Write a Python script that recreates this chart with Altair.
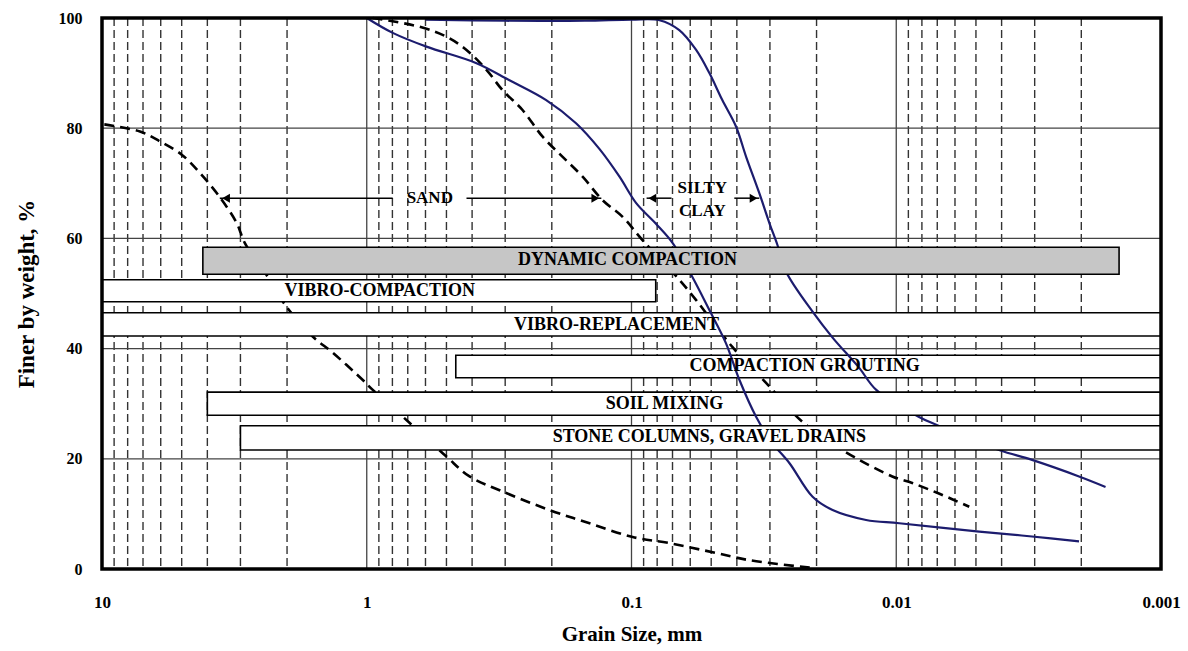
import altair as alt
import pandas as pd

FONT = "Liberation Serif"
NAVY = "#1c1c6e"

# ---------------- axes / grid values ----------------
X_TICKS = [10, 1, 0.1, 0.01, 0.001]
Y_TICKS = [0, 20, 40, 60, 80, 100]
MAJOR_X = [1, 0.1, 0.01]
MINOR_X = [9, 8, 7, 6, 5, 4, 3, 2,
           0.9, 0.8, 0.7, 0.6, 0.5, 0.4, 0.3, 0.2,
           0.09, 0.08, 0.07, 0.06, 0.05, 0.04, 0.03, 0.02,
           0.009, 0.008, 0.007, 0.006, 0.005, 0.004, 0.003, 0.002]
H_GRID = [20, 40, 60, 80]

# ---------------- grain-size curves ----------------
a_x = [9.8, 7.19, 6.04, 5.0, 4.27, 3.59, 3.10, 2.89, 2.4, 2.01, 1.60, 1.34, 1.035, 0.949,
       0.688, 0.50, 0.409, 0.315, 0.204, 0.144, 0.099, 0.072, 0.0479, 0.0359, 0.0207]
a_y = [80.7, 79.4, 77.6, 75.2, 71.9, 67.5, 62.8, 59.2, 53.5, 47.6, 42.2, 39.2, 34.3, 32.5,
       26.5, 20.4, 16.8, 14.3, 10.7, 8.3, 5.8, 4.7, 2.9, 1.6, 0.2]

b_x = [1.0, 0.798, 0.595, 0.385, 0.289, 0.21, 0.162, 0.132, 0.111, 0.096, 0.081, 0.070,
       0.0589, 0.0508, 0.044, 0.0391, 0.0338, 0.0294, 0.0253, 0.0207, 0.0174, 0.013,
       0.00974, 0.00486, 0.00307, 0.00204]
b_y = [100, 97.3, 94.8, 91.8, 88.7, 85.1, 80.9, 76.2, 71.2, 66.4, 62.7, 59.2,
       53.0, 47.0, 41.0, 34.3, 27.6, 22.9, 19.2, 13.1, 10.7, 8.9,
       8.3, 6.8, 5.9, 5.0]

c_x = [0.95, 0.631, 0.50, 0.42, 0.353, 0.307, 0.258, 0.217, 0.182, 0.153, 0.129, 0.108,
       0.0909, 0.066, 0.057, 0.0416, 0.0301, 0.0226, 0.016, 0.01035, 0.0087, 0.0069, 0.0053]
c_y = [100, 98.4, 96.6, 94.2, 90.6, 86.9, 83.3, 78.5, 74.8, 71.2, 67.0, 63.9,
       59.7, 52.5, 48.8, 40.3, 33.1, 26.7, 21.6, 16.8, 15.6, 13.7, 11.3]

d_x = [0.6, 0.3, 0.15, 0.1, 0.0784, 0.066, 0.057, 0.0508, 0.0454, 0.0403, 0.0369, 0.0329,
       0.0301, 0.0281, 0.0261, 0.0207, 0.0174, 0.0138, 0.0119, 0.0082, 0.007,
       0.00409, 0.00307, 0.00204, 0.00162]
d_y = [99.7, 99.5, 99.5, 99.7, 99.6, 97.8, 94.2, 90.0, 85.1, 80.3, 74.8, 68.2,
       62.7, 58.8, 54.0, 46.7, 42.0, 36.5, 32.5, 27.6, 26.1,
       21.6, 19.8, 16.8, 14.9]

# ---------------- treatment bands ----------------
box_names = ["DYNAMIC COMPACTION", "VIBRO-COMPACTION", "VIBRO-REPLACEMENT",
             "COMPACTION GROUTING", "SOIL MIXING", "STONE COLUMNS, GRAVEL DRAINS"]
box_x_from = [4.16, 10, 10, 0.461, 4.0, 3.0]
box_x_to = [0.00144, 0.081, 0.001, 0.001, 0.001, 0.001]
box_y_lo = [53.5, 48.5, 42.3, 34.7, 27.9, 21.6]
box_y_hi = [58.4, 52.5, 46.5, 38.8, 32.1, 26.0]
box_fill = ["#c6c6c6", "white", "white", "white", "white", "white"]
box_level = [3, 3, 1, 1, 2, 3]
label_x = [0.1035, 0.893, 0.114, 0.0222, 0.075, 0.0508]
label_y = [56.1, 50.5, 44.3, 36.8, 29.9, 24.0]

# ---------------- range arrows ----------------
arrow_y = 67.3
seg_x1 = [3.59, 0.42, 0.0877, 0.0409]
seg_x2 = [0.798, 0.13, 0.0706, 0.0329]
head_x = [3.40, 0.137, 0.0834, 0.0346]
head_dir = ["left", "right", "left", "right"]
range_text = ["SAND", "SILTY", "CLAY"]
range_text_x = [0.578, 0.054, 0.054]
range_text_y = [67.3, 69.2, 65.0]

# ---------------- scales & axes ----------------
xscale = alt.Scale(type="log", domain=[0.001, 10], reverse=True, nice=False)
yscale = alt.Scale(domain=[0, 100], nice=False, zero=False)
xaxis = alt.Axis(values=X_TICKS, format=".3~f", grid=False, ticks=False, domain=False,
                 labelFont=FONT, labelFontWeight="bold", labelFontSize=17, labelColor="black",
                 labelPadding=25, labelFlush=False, labelOverlap=False,
                 title="Grain Size, mm", titleFont=FONT, titleFontWeight="bold",
                 titleFontSize=21, titleColor="black", titlePadding=13)
yaxis = alt.Axis(values=Y_TICKS, grid=False, ticks=False, domain=False,
                 labelFont=FONT, labelFontWeight="bold", labelFontSize=16, labelColor="black",
                 labelPadding=20, labelFlush=False, labelOverlap=False,
                 title="Finer by weight, %", titleFont=FONT, titleFontWeight="bold",
                 titleFontSize=23, titleColor="black", titlePadding=20)


def X(f="x"):
    return alt.X(f, type="quantitative", scale=xscale, axis=xaxis)


def Y(f="y"):
    return alt.Y(f, type="quantitative", scale=yscale, axis=yaxis)


# grid
minor_df = pd.DataFrame({"x": MINOR_X})
major_df = pd.DataFrame({"x": MAJOR_X})
hgrid_df = pd.DataFrame({"y": H_GRID})

minor = alt.Chart(minor_df).mark_rule(color="#333333", strokeWidth=1.4, strokeDash=[8, 4]).encode(x=X())
major = alt.Chart(major_df).mark_rule(color="#444444", strokeWidth=1.3).encode(x=X())
hgrid = alt.Chart(hgrid_df).mark_rule(color="#444444", strokeWidth=1.3).encode(y=Y())


def curve_df(xs, ys):
    return pd.DataFrame({"x": xs, "y": ys, "i": list(range(len(xs)))})


def dashed(xs, ys):
    return alt.Chart(curve_df(xs, ys)).mark_line(
        color="black", strokeWidth=2.6, strokeDash=[10, 6], interpolate="catmull-rom"
    ).encode(x=X(), y=Y(), order="i:Q")


def solid(xs, ys):
    return alt.Chart(curve_df(xs, ys)).mark_line(
        color=NAVY, strokeWidth=2.2, interpolate="catmull-rom"
    ).encode(x=X(), y=Y(), order="i:Q")


boxes_df = pd.DataFrame({"name": box_names, "x": box_x_from, "x2": box_x_to,
                         "y": box_y_lo, "y2": box_y_hi, "fill": box_fill, "level": box_level})


def boxes(level):
    d = boxes_df[boxes_df["level"] == level]
    return alt.Chart(d).mark_rect(stroke="black", strokeWidth=1.6).encode(
        x=X(), x2="x2", y=Y(), y2="y2",
        fill=alt.Fill("fill:N", scale=None))


labels_df = pd.DataFrame({"name": box_names, "x": label_x, "y": label_y})
labels = alt.Chart(labels_df).mark_text(
    font=FONT, fontWeight="bold", fontSize=18, color="black", baseline="middle", align="center"
).encode(x=X(), y=Y(), text="name:N")

seg_df = pd.DataFrame({"x": seg_x1, "x2": seg_x2, "y": [arrow_y] * len(seg_x1)})
segs = alt.Chart(seg_df).mark_rule(color="black", strokeWidth=1.5).encode(x=X(), x2="x2", y=Y())

head_df = pd.DataFrame({"x": head_x, "y": [arrow_y] * len(head_x), "dir": head_dir})
heads_l = alt.Chart(head_df[head_df["dir"] == "left"]).mark_point(
    shape="triangle-left", filled=True, size=80, color="black", opacity=1).encode(x=X(), y=Y())
heads_r = alt.Chart(head_df[head_df["dir"] == "right"]).mark_point(
    shape="triangle-right", filled=True, size=80, color="black", opacity=1).encode(x=X(), y=Y())

rtext_df = pd.DataFrame({"t": range_text, "x": range_text_x, "y": range_text_y})
rtext = alt.Chart(rtext_df).mark_text(
    font=FONT, fontWeight="bold", fontSize=17, color="black", baseline="middle", align="center"
).encode(x=X(), y=Y(), text="t:N")

frame = alt.Chart(pd.DataFrame({"k": [0]})).mark_rect(
    filled=False, stroke="black", strokeWidth=3.5
).encode(x=alt.value(0), x2=alt.value("width"), y=alt.value(0), y2=alt.value("height"))

chart = alt.layer(
    minor, major, hgrid,
    dashed(a_x, a_y), dashed(c_x, c_y),
    boxes(1),
    solid(d_x, d_y),
    boxes(2),
    solid(b_x, b_y),
    boxes(3),
    labels, segs, heads_l, heads_r, rtext,
    frame,
).properties(
    width=1059, height=551,
    padding={"left": 102, "top": 18, "right": 27, "bottom": 82},
    autosize=alt.AutoSizeParams(type="none"),
    background="white",
).configure_view(strokeWidth=0)

chart.save("out.html", embed_options={"renderer": "svg", "actions": False})
